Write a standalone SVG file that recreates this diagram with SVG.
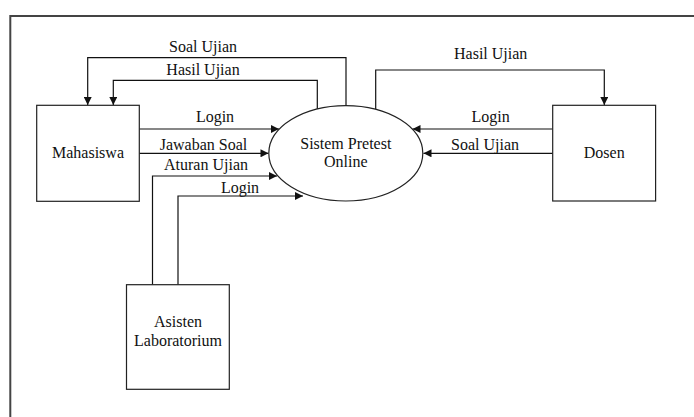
<svg xmlns="http://www.w3.org/2000/svg" width="694" height="417" viewBox="0 0 694 417">
<style>
  .node { fill: #fff; stroke: #222; stroke-width: 1.2; }
  .frame { fill: none; stroke: #444; stroke-width: 2; }
  .conn { fill: none; stroke: #111; stroke-width: 1.2; }
  text { font-family: "Liberation Serif", "Times New Roman", serif; font-size: 16px; fill: #111; text-anchor: middle; }
</style>
<defs>
  <marker id="arr" viewBox="0 0 10 10" refX="10" refY="5" markerWidth="10" markerHeight="8" markerUnits="userSpaceOnUse" orient="auto">
    <path d="M0,0 L10,5 L0,10 z" fill="#111"/>
  </marker>
</defs>
<rect width="694" height="417" fill="#fff"/>
<path class="frame" d="M10.3,420 V16 H700"/>

<g id="connectors">
  <path class="conn" d="M346,106 V57.7 H87.7 V105" marker-end="url(#arr)"/>
  <path class="conn" d="M317.3,109 V80.3 H113.3 V105" marker-end="url(#arr)"/>
  <path class="conn" d="M375.7,109.5 V70 H604.3 V105" marker-end="url(#arr)"/>
  <path class="conn" d="M139.3,129 H279" marker-end="url(#arr)"/>
  <path class="conn" d="M139.3,153.3 H268.5" marker-end="url(#arr)"/>
  <path class="conn" d="M152.5,284.7 V176 H277" marker-end="url(#arr)"/>
  <path class="conn" d="M178,284.7 V196 H303" marker-end="url(#arr)"/>
  <path class="conn" d="M552.7,129 H412.5" marker-end="url(#arr)"/>
  <path class="conn" d="M552.7,153.3 H423.5" marker-end="url(#arr)"/>
  <text x="203" y="52">Soal Ujian</text>
  <text x="203" y="75">Hasil Ujian</text>
  <text x="490.7" y="59">Hasil Ujian</text>
  <text x="215" y="122">Login</text>
  <text x="203.5" y="149.5">Jawaban Soal</text>
  <text x="206" y="169.5">Aturan Ujian</text>
  <text x="240" y="192.5">Login</text>
  <text x="490.7" y="122">Login</text>
  <text x="485" y="149.5">Soal Ujian</text>
</g>

<g id="mahasiswa">
  <rect class="node" x="36.7" y="105.3" width="102.6" height="96"/>
  <text x="88" y="158">Mahasiswa</text>
</g>
<g id="sistem">
  <ellipse class="node" cx="345.8" cy="153.3" rx="77" ry="47.7"/>
  <text x="345.8" y="148.5">Sistem Pretest</text>
  <text x="345.8" y="166.5">Online</text>
</g>
<g id="dosen">
  <rect class="node" x="552.7" y="105.3" width="102.9" height="95.7"/>
  <text x="604.2" y="158">Dosen</text>
</g>
<g id="asisten">
  <rect class="node" x="126.5" y="284.7" width="102.8" height="104.6"/>
  <text x="178" y="327">Asisten</text>
  <text x="178" y="346">Laboratorium</text>
</g>
</svg>
